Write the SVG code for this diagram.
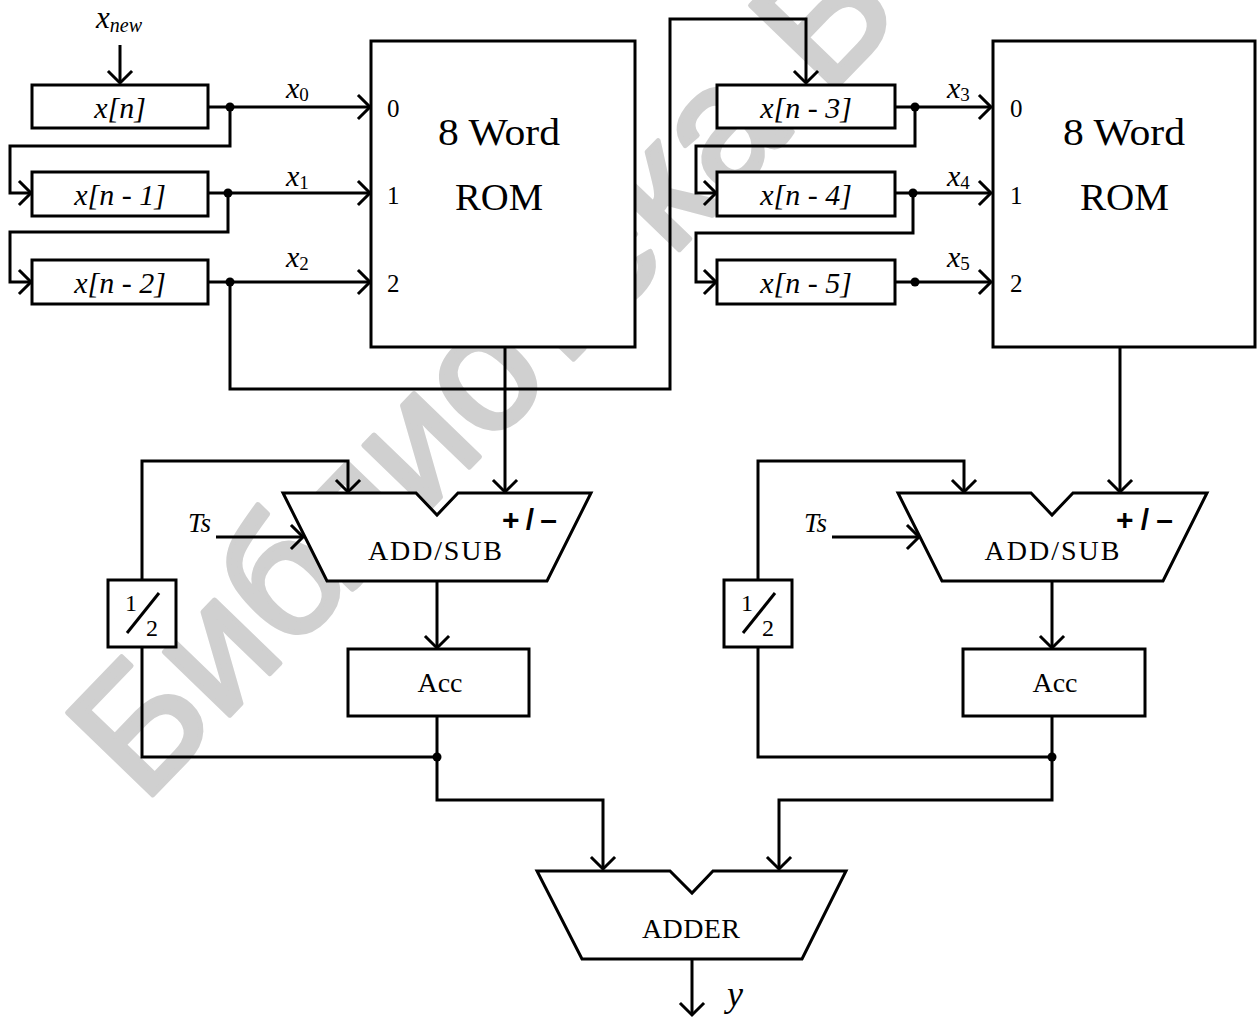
<svg xmlns="http://www.w3.org/2000/svg" width="1258" height="1019" viewBox="0 0 1258 1019">
<defs>
<marker id="arr" markerUnits="userSpaceOnUse" orient="auto" refX="0" refY="0" markerWidth="30" markerHeight="30" overflow="visible">
<path d="M-11,-11 L0,0 L-11,11" fill="none" stroke="#000" stroke-width="3" stroke-linecap="square"/>
</marker>
<style>
.box{fill:#fff;stroke:#000;stroke-width:3}
.w{fill:none;stroke:#000;stroke-width:3}
.a{marker-end:url(#arr)}
.dot{fill:#000}
.serif{font-family:"Liberation Serif","DejaVu Serif",serif;fill:#000}
.it{font-family:"Liberation Serif","DejaVu Serif",serif;font-style:italic;fill:#000}
.big{font-size:38px}
.mid{font-size:28px}
.pin{font-size:25px}
.reg{font-size:30px}
.pm{font-family:"Liberation Sans","DejaVu Sans",sans-serif;font-weight:bold;font-size:30px;fill:#000}
.wm{font-family:"Liberation Sans","DejaVu Sans",sans-serif;font-size:172px;fill:#d0d0d0;stroke:#d0d0d0;stroke-width:5;stroke-linejoin:round}
</style>
</defs>
<rect width="1258" height="1019" fill="#fff"/>
<text class="wm" transform="translate(143,805) rotate(-46)">Библиотека Б</text>

<g id="connectors">
<path class="w a" d="M120,45 V83"/>
<path class="w a" d="M208,107 H370"/>
<path class="w a" d="M230,107 V146 H10 V193 H31"/>
<path class="w a" d="M208,193 H370"/>
<path class="w a" d="M228,193 V232 H10 V282 H31"/>
<path class="w a" d="M208,282 H370"/>
<path class="w a" d="M230,282 V389 H670 V19 H806 V83"/>
<path class="w a" d="M895,107 H991"/>
<path class="w a" d="M915,107 V146 H696 V193 H716"/>
<path class="w a" d="M895,193 H991"/>
<path class="w a" d="M913,193 V233 H696 V282 H716"/>
<path class="w a" d="M895,282 H991"/>
<path class="w a" d="M505,347 V492"/>
<path class="w a" d="M1120,347 V492"/>
<path class="w a" d="M216,537 H303"/>
<path class="w" d="M437,757 H142 V647"/>
<path class="w a" d="M142,580 V461 H348 V492"/>
<path class="w a" d="M437,581 V648"/>
<path class="w a" d="M437,716 V800 H603 V869"/>
<path class="w a" d="M832,537 H919"/>
<path class="w" d="M1052,757 H758 V647"/>
<path class="w a" d="M758,580 V461 H964 V492"/>
<path class="w a" d="M1052,581 V648"/>
<path class="w a" d="M1052,716 V800 H779 V869"/>
<path class="w a" d="M692,959 V1015"/>
<circle class="dot" cx="230" cy="107" r="4.5"/>
<circle class="dot" cx="228" cy="193" r="4.5"/>
<circle class="dot" cx="230" cy="282" r="4.5"/>
<circle class="dot" cx="915" cy="107" r="4.5"/>
<circle class="dot" cx="913" cy="193" r="4.5"/>
<circle class="dot" cx="915" cy="282" r="4.5"/>
<circle class="dot" cx="437" cy="757" r="4.5"/>
<circle class="dot" cx="1052" cy="757" r="4.5"/>
<text class="it" x="96" y="28" font-size="31">x<tspan font-size="20" dy="4">new</tspan></text>
<text class="it" x="286" y="98" font-size="30">x<tspan class="serif" font-style="normal" font-size="19" dy="3">0</tspan></text>
<text class="it" x="286" y="186" font-size="30">x<tspan class="serif" font-style="normal" font-size="19" dy="3">1</tspan></text>
<text class="it" x="286" y="267" font-size="30">x<tspan class="serif" font-style="normal" font-size="19" dy="3">2</tspan></text>
<text class="it" x="947" y="98" font-size="30">x<tspan class="serif" font-style="normal" font-size="19" dy="3">3</tspan></text>
<text class="it" x="947" y="186" font-size="30">x<tspan class="serif" font-style="normal" font-size="19" dy="3">4</tspan></text>
<text class="it" x="947" y="267" font-size="30">x<tspan class="serif" font-style="normal" font-size="19" dy="3">5</tspan></text>
<text class="it" x="188" y="532" font-size="27">Ts</text>
<text class="it" x="804" y="532" font-size="27">Ts</text>
<text class="it" x="727" y="1006" font-size="36">y</text>
</g>

<g id="reg0"><rect class="box" x="32" y="85" width="176" height="43"/><text class="it reg" x="120" y="118" text-anchor="middle">x[n]</text></g>
<g id="reg1"><rect class="box" x="32" y="172" width="176" height="44"/><text class="it reg" x="120" y="205" text-anchor="middle">x[n - 1]</text></g>
<g id="reg2"><rect class="box" x="32" y="260" width="176" height="44"/><text class="it reg" x="120" y="293" text-anchor="middle">x[n - 2]</text></g>
<g id="reg3"><rect class="box" x="717" y="85" width="178" height="43"/><text class="it reg" x="806" y="118" text-anchor="middle">x[n - 3]</text></g>
<g id="reg4"><rect class="box" x="717" y="172" width="178" height="44"/><text class="it reg" x="806" y="205" text-anchor="middle">x[n - 4]</text></g>
<g id="reg5"><rect class="box" x="717" y="260" width="178" height="44"/><text class="it reg" x="806" y="293" text-anchor="middle">x[n - 5]</text></g>

<g id="rom1">
<rect class="box" x="371" y="41" width="264" height="306"/>
<text class="serif pin" x="387" y="117">0</text>
<text class="serif pin" x="387" y="204">1</text>
<text class="serif pin" x="387" y="292">2</text>
<text class="serif big" x="438" y="145" textLength="122" lengthAdjust="spacingAndGlyphs">8 Word</text>
<text class="serif big" x="455" y="210" textLength="88" lengthAdjust="spacingAndGlyphs">ROM</text>
</g>
<g id="rom2">
<rect class="box" x="993" y="41" width="262" height="306"/>
<text class="serif pin" x="1010" y="117">0</text>
<text class="serif pin" x="1010" y="204">1</text>
<text class="serif pin" x="1010" y="292">2</text>
<text class="serif big" x="1063" y="145" textLength="122" lengthAdjust="spacingAndGlyphs">8 Word</text>
<text class="serif big" x="1080" y="210" textLength="89" lengthAdjust="spacingAndGlyphs">ROM</text>
</g>

<g id="addsub1">
<path class="box" d="M283,493 H416 L437,515 L458,493 H591 L547,581 H327 Z"/>
<text class="pm" x="502" y="530" textLength="55" lengthAdjust="spacing">+/–</text>
<text class="serif mid" x="435" y="560" text-anchor="middle" textLength="134" lengthAdjust="spacing">ADD/SUB</text>
</g>
<g id="addsub2">
<path class="box" d="M898,493 H1031 L1052,515 L1073,493 H1207 L1163,581 H942 Z"/>
<text class="pm" x="1116" y="530" textLength="57" lengthAdjust="spacing">+/–</text>
<text class="serif mid" x="1052" y="560" text-anchor="middle" textLength="135" lengthAdjust="spacing">ADD/SUB</text>
</g>
<g id="half1">
<rect class="box" x="108" y="580" width="68" height="67"/>
<text class="serif" font-size="24" x="125" y="611">1</text>
<path class="w" d="M127,633 L159,593"/>
<text class="serif" font-size="24" x="146" y="636">2</text>
</g>
<g id="half2">
<rect class="box" x="724" y="580" width="68" height="67"/>
<text class="serif" font-size="24" x="741" y="611">1</text>
<path class="w" d="M743,633 L775,593"/>
<text class="serif" font-size="24" x="762" y="636">2</text>
</g>
<g id="acc1"><rect class="box" x="348" y="649" width="181" height="67"/><text class="serif mid" x="440" y="692" text-anchor="middle">Acc</text></g>
<g id="acc2"><rect class="box" x="963" y="649" width="182" height="67"/><text class="serif mid" x="1055" y="692" text-anchor="middle">Acc</text></g>
<g id="adder">
<path class="box" d="M537,871 H670 L692,893 L713,871 H846 L802,959 H582 Z"/>
<text class="serif mid" x="691" y="938" text-anchor="middle" textLength="98" lengthAdjust="spacing">ADDER</text>
</g>
</svg>
